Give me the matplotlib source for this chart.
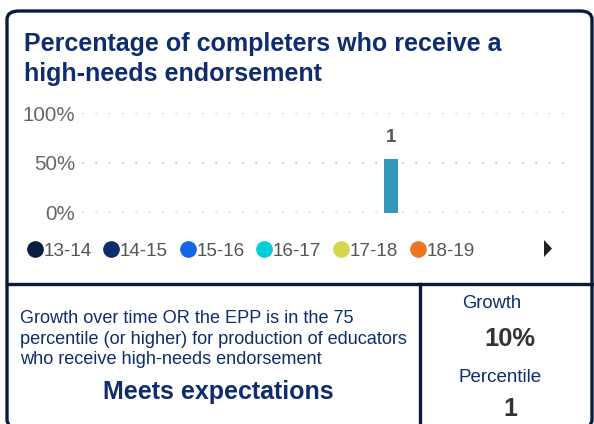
import matplotlib.pyplot as plt
from matplotlib.lines import Line2D
from matplotlib.patches import FancyBboxPatch, Polygon

plt.rcParams["font.family"] = ["Liberation Sans", "DejaVu Sans"]

# data
years = ["13-14", "14-15", "15-16", "16-17", "17-18", "18-19"]
year_colors = ["#0b1c45", "#0d2d6e", "#1565e8", "#00cdd8", "#d5d84f", "#ee7424"]
bar_share = [0, 0, 0, 0.54, 0, 0]
bar_counts = [None, None, None, 1, None, None]
y_ticks = [0, 0.5, 1.0]
y_tick_labels = ["0%", "50%", "100%"]

title = "Percentage of completers who receive a\nhigh-needs endorsement"
criterion = ("Growth over time OR the EPP is in the 75\n"
             "percentile (or higher) for production of educators\n"
             "who receive high-needs endorsement")
rating = "Meets expectations"
growth_value = "10%"
percentile_value = "1"

W, H = 594, 424
NAVY = "#0e2c6e"
BORDER = "#0c1a3a"


def fx(px):
    return px / W


def fy(py):
    return 1 - py / H


fig = plt.figure(figsize=(W / 100, H / 100), dpi=100)

# card frame
frame = FancyBboxPatch((fx(7), fy(428)), fx(585), (428 - 11) / H,
                       boxstyle="round,pad=0,rounding_size=0.02",
                       transform=fig.transFigure, fill=False,
                       edgecolor=BORDER, linewidth=2.4, clip_on=False)
fig.patches.append(frame)
fig.add_artist(Line2D([fx(7), fx(592)], [fy(284), fy(284)],
                      transform=fig.transFigure, color=BORDER, linewidth=2.4))
fig.add_artist(Line2D([fx(420), fx(420)], [fy(284), fy(430)],
                      transform=fig.transFigure, color=BORDER, linewidth=2.4))

fig.text(fx(24), fy(59), title, ha="left", va="center", fontsize=18,
         fontweight="bold", color=NAVY, linespacing=1.3)

# chart
ax = fig.add_axes([fx(82), fy(213), fx(490), 100 / H])
x = list(range(len(years)))
bars = ax.bar(x, bar_share, width=0.155, color="#3598ba")
for rect, c in zip(bars, bar_counts):
    if c is not None:
        ax.text(rect.get_x() + rect.get_width() / 2, rect.get_height() + 0.13,
                str(c), ha="center", va="bottom", fontsize=13.5,
                fontweight="bold", color="#555555")
ax.set_xlim(-0.5, 5.05)
ax.set_ylim(0, 1)
ax.set_yticks(y_ticks)
ax.set_yticklabels(y_tick_labels, fontsize=14.8, color="#666666")
ax.tick_params(axis="y", length=0, pad=5)
ax.set_xticks([])
for s in ax.spines.values():
    s.set_visible(False)
ax.set_axisbelow(True)
ax.yaxis.grid(True, linestyle=(0, (1, 7)), color="#c4c4c4", linewidth=1.2)

handles = [Line2D([], [], marker="o", linestyle="none", markersize=11,
                  markerfacecolor=c, markeredgecolor=c) for c in year_colors]
fig.legend(handles, years, loc="center left", bbox_to_anchor=(fx(16), fy(251)),
           ncol=6, frameon=False, fontsize=13.6, handletextpad=-0.15,
           columnspacing=0.45, labelcolor="#555555", borderaxespad=0,
           handlelength=1.2)
fig.patches.append(Polygon([[fx(544), fy(240)], [fx(552), fy(248.5)], [fx(544), fy(257)]],
                           closed=True, transform=fig.transFigure,
                           facecolor="#222222", edgecolor="none"))

# bottom panels
fig.text(fx(20), fy(339), criterion, ha="left", va="center", fontsize=13.1,
         color=NAVY, linespacing=1.3)
fig.text(fx(218), fy(392), rating, ha="center", va="center", fontsize=18,
         fontweight="bold", color=NAVY)
fig.text(fx(492), fy(304), "Growth", ha="center", va="center", fontsize=13.2,
         color=NAVY)
fig.text(fx(510), fy(339), growth_value, ha="center", va="center", fontsize=18.4,
         fontweight="bold", color="#333333")
fig.text(fx(500), fy(377), "Percentile", ha="center", va="center", fontsize=13.5,
         color=NAVY)
fig.text(fx(510), fy(409), percentile_value, ha="center", va="center", fontsize=18,
         fontweight="bold", color="#333333")

fig.savefig("out.png", dpi=100)
